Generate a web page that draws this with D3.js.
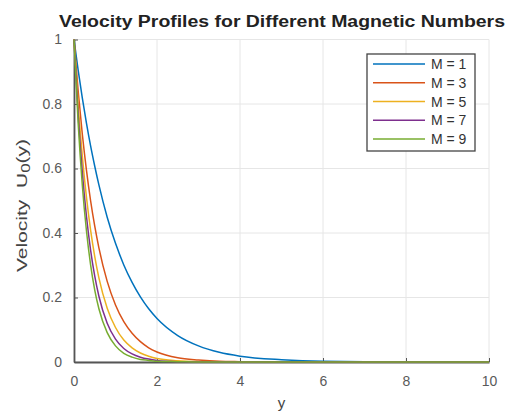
<!DOCTYPE html>
<html>
<head>
<meta charset="utf-8">
<script src="https://cdn.jsdelivr.net/npm/d3@7"></script>
<style>
  body { margin: 0; background: #fff; }
  svg { font-family: "Liberation Sans", Arial, sans-serif; }
</style>
</head>
<body>
<div id="chart"></div>
<script>
// sample positions along y
var yPoints = [0, 0.1, 0.2, 0.3, 0.4, 0.5, 0.6, 0.8, 1, 1.2, 1.4, 1.6, 1.8, 2, 2.5, 3, 3.5, 4, 5, 6, 7, 8, 10];
var seriesNames = ["M = 1", "M = 3", "M = 5", "M = 7", "M = 9"];
var u_m1 = [1, 0.905, 0.819, 0.741, 0.670, 0.607, 0.549, 0.449, 0.368, 0.301, 0.247, 0.202, 0.165, 0.135, 0.082, 0.050, 0.030, 0.018, 0.007, 0.002, 0.001, 0, 0];
var u_m3 = [1, 0.841, 0.707, 0.595, 0.500, 0.421, 0.354, 0.250, 0.177, 0.125, 0.089, 0.063, 0.044, 0.031, 0.013, 0.006, 0.002, 0.001, 0, 0, 0, 0, 0];
var u_m5 = [1, 0.800, 0.639, 0.511, 0.409, 0.327, 0.261, 0.167, 0.107, 0.068, 0.044, 0.028, 0.018, 0.011, 0.004, 0.001, 0, 0, 0, 0, 0, 0, 0];
var u_m7 = [1, 0.767, 0.589, 0.452, 0.347, 0.266, 0.204, 0.120, 0.071, 0.042, 0.025, 0.015, 0.009, 0.005, 0.001, 0, 0, 0, 0, 0, 0, 0, 0];
var u_m9 = [1, 0.741, 0.549, 0.407, 0.301, 0.223, 0.165, 0.091, 0.050, 0.027, 0.015, 0.008, 0.005, 0.002, 0.001, 0, 0, 0, 0, 0, 0, 0, 0];
var xTicks = [0, 2, 4, 6, 8, 10];
var yTicks = [0, 0.2, 0.4, 0.6, 0.8, 1];
var colors = ["#0072BD", "#D95319", "#EDB120", "#7E2F8E", "#77AC30"];

var series = [u_m1, u_m3, u_m5, u_m7, u_m9];

var width = 510, height = 412;
var margin = {left: 74, right: 21, top: 39.5, bottom: 50};
var x0 = margin.left, x1 = width - margin.right;
var y0 = height - margin.bottom, y1 = margin.top;

var svg = d3.select("#chart").append("svg")
  .attr("width", width)
  .attr("height", height);

var x = d3.scaleLinear().domain([0, 10]).range([x0, x1]);
var y = d3.scaleLinear().domain([0, 1]).range([y0, y1]);

// grid
svg.append("g").selectAll("line.gx")
  .data(xTicks)
  .enter().append("line")
  .attr("x1", function(d) { return x(d); })
  .attr("x2", function(d) { return x(d); })
  .attr("y1", y0).attr("y2", y1)
  .attr("stroke", "#e6e6e6").attr("stroke-width", 1);
svg.append("g").selectAll("line.gy")
  .data(yTicks)
  .enter().append("line")
  .attr("x1", x0).attr("x2", x1)
  .attr("y1", function(d) { return y(d); })
  .attr("y2", function(d) { return y(d); })
  .attr("stroke", "#e6e6e6").attr("stroke-width", 1);

// axes
var xAxis = svg.append("g")
  .attr("transform", "translate(0," + y0 + ")")
  .call(d3.axisBottom(x).tickValues(xTicks).tickSizeInner(-4).tickSizeOuter(0).tickPadding(14));
var yAxis = svg.append("g")
  .attr("transform", "translate(" + x0 + ",0)")
  .call(d3.axisLeft(y).tickValues(yTicks).tickFormat(d3.format("~g")).tickSizeInner(-4).tickSizeOuter(0).tickPadding(12));

[xAxis, yAxis].forEach(function(a) {
  a.select(".domain").attr("stroke", "#555").attr("stroke-width", 1.8);
  a.selectAll(".tick line").attr("stroke", "#555");
  a.selectAll(".tick text").attr("fill", "#5a5a5a").style("font-size", "14px");
});

// curves
var line = d3.line()
  .x(function(d) { return x(d[0]); })
  .y(function(d) { return y(d[1]); })
  .curve(d3.curveMonotoneX);

svg.append("g").selectAll("path.curve")
  .data(series)
  .enter().append("path")
  .attr("class", "curve")
  .attr("fill", "none")
  .attr("stroke", function(d, i) { return colors[i]; })
  .attr("stroke-width", 1.5)
  .attr("d", function(d) {
    return line(yPoints.map(function(p, i) { return [p, d[i]]; }));
  });

// title (the source image is stretched sideways)
svg.append("text")
  .attr("x", 59)
  .attr("y", 27)
  .attr("textLength", 446)
  .attr("lengthAdjust", "spacingAndGlyphs")
  .style("font-size", "16px")
  .style("font-weight", "bold")
  .attr("fill", "#222")
  .text("Velocity Profiles for Different Magnetic Numbers");

// axis labels
svg.append("text")
  .attr("x", (x0 + x1) / 2)
  .attr("y", 408)
  .attr("text-anchor", "middle")
  .style("font-size", "15px")
  .attr("fill", "#444")
  .text("y");

var ylab = svg.append("text")
  .attr("transform", "translate(27,272) rotate(-90)")
  .attr("textLength", 133)
  .attr("lengthAdjust", "spacingAndGlyphs")
  .style("font-size", "15px")
  .attr("fill", "#444");
ylab.append("tspan").text("Velocity\u00a0\u00a0U");
ylab.append("tspan").attr("dy", 3).style("font-size", "12px").text("0");
ylab.append("tspan").attr("dy", -3).text("(y)");

// legend
var lg = svg.append("g").attr("transform", "translate(367,54)");
lg.append("rect")
  .attr("width", 108).attr("height", 97)
  .attr("fill", "#fff")
  .attr("stroke", "#444").attr("stroke-width", 1.3);
var item = lg.selectAll("g.item")
  .data(seriesNames)
  .enter().append("g")
  .attr("transform", function(d, i) { return "translate(0," + (10 + i * 18.75) + ")"; });
item.append("line")
  .attr("x1", 6).attr("x2", 58)
  .attr("stroke", function(d, i) { return colors[i]; })
  .attr("stroke-width", 1.5);
item.append("text")
  .attr("x", 64).attr("y", 5)
  .style("font-size", "14px")
  .attr("fill", "#333")
  .text(function(d) { return d; });
</script>
</body>
</html>
